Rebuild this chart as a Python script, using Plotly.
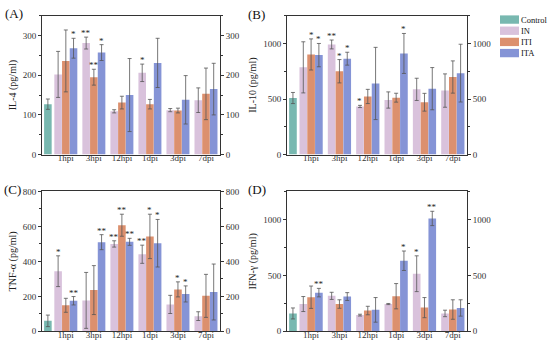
import plotly.graph_objects as go

categories = ["1hpi", "3hpi", "12hpi", "1dpi", "3dpi", "7dpi"]
series_names = ["Control", "IN", "ITI", "ITA"]

# Panel A: IL-4
il4_ctrl, il4_ctrl_err = 127, 13
il4_in = [202, 281, 109, 206, 112, 137]
il4_in_err = [58, 15, 4, 22, 4, 31]
il4_iti = [236, 195, 131, 127, 111, 153]
il4_iti_err = [78, 20, 16, 12, 6, 65]
il4_ita = [268, 257, 150, 231, 138, 165]
il4_ita_err = [25, 20, 92, 62, 61, 65]
il4_sig_in = ["", "**", "", "*", "", ""]
il4_sig_iti = ["", "**", "", "", "", ""]
il4_sig_ita = ["*", "*", "", "", "", ""]

# Panel B: IL-10
il10_ctrl, il10_ctrl_err = 509, 50
il10_in = [785, 991, 433, 491, 587, 576]
il10_in_err = [230, 40, 10, 73, 100, 150]
il10_iti = [901, 750, 523, 512, 471, 698]
il10_iti_err = [140, 105, 64, 40, 80, 145]
il10_ita = [895, 863, 640, 910, 593, 733]
il10_ita_err = [105, 58, 325, 180, 190, 260]
il10_sig_in = ["", "**", "*", "", "", ""]
il10_sig_iti = ["*", "*", "", "", "", ""]
il10_sig_ita = ["*", "*", "", "*", "", ""]

# Panel C: TNF-a
tnf_ctrl, tnf_ctrl_err = 60, 33
tnf_in = [344, 177, 500, 441, 154, 87]
tnf_in_err = [88, 160, 18, 52, 52, 25]
tnf_iti = [149, 236, 607, 543, 240, 203]
tnf_iti_err = [40, 140, 63, 127, 43, 123]
tnf_ita = [175, 510, 512, 504, 214, 225]
tnf_ita_err = [24, 43, 20, 136, 46, 160]
tnf_sig_in = ["*", "", "**", "**", "", ""]
tnf_sig_iti = ["", "", "**", "*", "*", ""]
tnf_sig_ita = ["**", "**", "**", "*", "*", ""]

# Panel D: IFN-g
ifn_ctrl, ifn_ctrl_err = 160, 49
ifn_in = [244, 317, 145, 244, 515, 160]
ifn_in_err = [67, 32, 8, 5, 160, 29]
ifn_iti = [305, 244, 186, 314, 212, 195]
ifn_iti_err = [100, 38, 38, 113, 90, 87]
ifn_ita = [346, 311, 192, 631, 1009, 209]
ifn_ita_err = [38, 35, 110, 87, 64, 73]
ifn_sig_in = ["", "", "", "", "*", ""]
ifn_sig_iti = ["", "", "", "", "", ""]
ifn_sig_ita = ["**", "", "", "*", "**", ""]

colors = {"Control": "#78b8b0", "IN": "#d9c2dc", "ITI": "#dc906e", "ITA": "#8594d6"}
FONT = "Liberation Serif"
W, H = 550, 348

panels = [
    dict(label="(A)", title="IL-4 (pg/ml)", rng=[0, 350], dtick=100, minor=50,
         ctrl=il4_ctrl, ctrl_err=il4_ctrl_err,
         s=[(il4_in, il4_in_err, il4_sig_in), (il4_iti, il4_iti_err, il4_sig_iti), (il4_ita, il4_ita_err, il4_sig_ita)],
         px=(42, 220), py=(11, 154), lab=(3, 9)),
    dict(label="(B)", title="IL-10 (pg/ml)", rng=[0, 1250], dtick=500, minor=250,
         ctrl=il10_ctrl, ctrl_err=il10_ctrl_err,
         s=[(il10_in, il10_in_err, il10_sig_in), (il10_iti, il10_iti_err, il10_sig_iti), (il10_ita, il10_ita_err, il10_sig_ita)],
         px=(287, 467), py=(11, 154), lab=(246, 10)),
    dict(label="(C)", title="TNF-α (pg/ml)", rng=[0, 800], dtick=200, minor=100,
         ctrl=tnf_ctrl, ctrl_err=tnf_ctrl_err,
         s=[(tnf_in, tnf_in_err, tnf_sig_in), (tnf_iti, tnf_iti_err, tnf_sig_iti), (tnf_ita, tnf_ita_err, tnf_sig_ita)],
         px=(42, 220), py=(192, 336), lab=(2, 190)),
    dict(label="(D)", title="IFN-γ (pg/ml)", rng=[0, 1250], dtick=500, minor=250,
         ctrl=ifn_ctrl, ctrl_err=ifn_ctrl_err,
         s=[(ifn_in, ifn_in_err, ifn_sig_in), (ifn_iti, ifn_iti_err, ifn_sig_iti), (ifn_ita, ifn_ita_err, ifn_sig_ita)],
         px=(287, 467), py=(192, 336), lab=(246, 190)),
]

fig = go.Figure()
BW = 0.27
offsets = [-1.5 * BW - 0.005, -0.5 * BW, 0.5 * BW + 0.005]
xpos = list(range(1, 7))
ctrl_x = 0.36
annotations = []
shapes = []
layout = {}

for i, p in enumerate(panels):
    n = i + 1
    xa = "x" if n == 1 else f"x{n}"
    ya = "y" if n == 1 else f"y{n}"
    err_style = dict(type="data", thickness=0.8, width=2, color="#555555")
    fig.add_trace(go.Bar(x=[ctrl_x], y=[p["ctrl"]], width=BW, offset=-BW / 2,
                         error_y=dict(array=[p["ctrl_err"]], **err_style),
                         marker=dict(color=colors["Control"], line=dict(width=0)),
                         name="Control", showlegend=False, xaxis=xa, yaxis=ya))
    for k, (vals, errs, sigs) in enumerate(p["s"]):
        nm = series_names[k + 1]
        fig.add_trace(go.Bar(x=xpos, y=vals, width=BW, offset=offsets[k],
                             error_y=dict(array=errs, **err_style),
                             marker=dict(color=colors[nm], line=dict(width=0)),
                             name=nm, showlegend=False, xaxis=xa, yaxis=ya))
        for j, sg in enumerate(sigs):
            if sg:
                annotations.append(dict(x=xpos[j] + offsets[k] + BW / 2, y=vals[j] + errs[j],
                                        xref=xa, yref=ya, text=sg, showarrow=False,
                                        yanchor="bottom", yshift=-3,
                                        font=dict(family=FONT, size=9, color="#222")))
    dx = [p["px"][0] / W, p["px"][1] / W]
    dy = [1 - p["py"][1] / H, 1 - p["py"][0] / H]
    axfont = dict(family=FONT, size=9, color="#333")
    layout["xaxis" if n == 1 else f"xaxis{n}"] = dict(
        domain=dx, anchor=ya, range=[0.15, 6.5], tickvals=xpos, ticktext=categories,
        showline=True, linecolor="#333", linewidth=1, mirror=True, ticks="",
        ticklabelstandoff=-5,
        showgrid=False, zeroline=False, tickfont=axfont)
    layout["yaxis" if n == 1 else f"yaxis{n}"] = dict(
        domain=dy, anchor=xa, range=p["rng"], dtick=p["dtick"], showline=True,
        linecolor="#333", linewidth=1, ticks="outside", ticklen=3, tickwidth=0.8,
        tickcolor="#333", minor=dict(dtick=p["minor"], ticks="outside", ticklen=2, tickcolor="#333"),
        showgrid=False, zeroline=False, tickfont=axfont,
        title=dict(text=p["title"], font=dict(family=FONT, size=10, color="#222"), standoff=4))
    ra = f"yaxis{n + 4}"
    layout[ra] = dict(overlaying=ya, anchor=xa, side="right", range=p["rng"], dtick=p["dtick"],
                      showline=True, linecolor="#333", linewidth=1, ticks="outside", ticklen=3,
                      tickwidth=0.8, tickcolor="#333",
                      minor=dict(dtick=p["minor"], ticks="outside", ticklen=2, tickcolor="#333"),
                      showgrid=False, zeroline=False, tickfont=axfont)
    # invisible trace so the right axis is drawn
    fig.add_trace(go.Scatter(x=[ctrl_x], y=[0], mode="markers", marker=dict(opacity=0),
                             showlegend=False, hoverinfo="skip", xaxis=xa, yaxis=f"y{n + 4}"))
    annotations.append(dict(x=p["lab"][0] / W, y=1 - p["lab"][1] / H, xref="paper", yref="paper",
                            text=p["label"], showarrow=False, xanchor="left", yanchor="middle",
                            font=dict(family=FONT, size=13, color="#111")))

# compact legend (patch + label) in the top-right corner
leg_rows = [15, 26.5, 38, 49.5]
for nm, yc in zip(series_names, leg_rows):
    shapes.append(dict(type="rect", xref="paper", yref="paper",
                       x0=500 / W, x1=519 / W, y0=1 - (yc + 4.3) / H, y1=1 - (yc - 4.3) / H,
                       fillcolor=colors[nm], line=dict(width=0)))
    annotations.append(dict(x=519.5 / W, y=1 - yc / H, xref="paper", yref="paper", text=nm,
                            showarrow=False, xanchor="left", yanchor="middle", borderpad=0,
                            font=dict(family=FONT, size=8.5, color="#111")))

fig.update_layout(
    width=W, height=H, margin=dict(l=0, r=0, t=0, b=0),
    paper_bgcolor="white", plot_bgcolor="white", barmode="overlay",
    annotations=annotations, shapes=shapes, showlegend=False,
    **layout,
)

fig.write_html("out.html", config={"displayModeBar": False},
               post_script="document.body.style.margin='0px';document.body.style.overflow='hidden';")
